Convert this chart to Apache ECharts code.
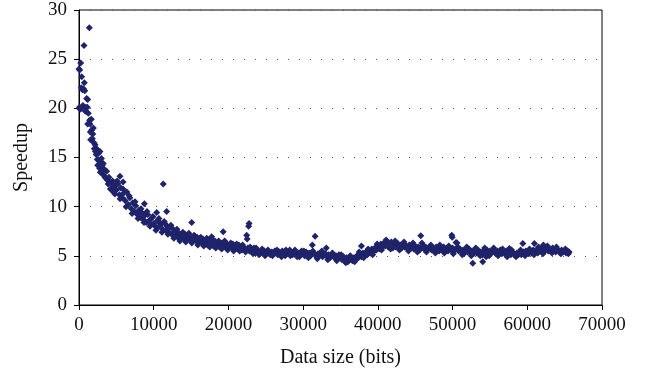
<!DOCTYPE html>
<html lang="en">
<head>
    <meta charset="UTF-8">
    <title>Speedup vs data size</title>
    <script src="https://cdn.jsdelivr.net/npm/echarts@6/dist/echarts.min.js"></script>
    <style>
        html, body { margin: 0; padding: 0; background: #fff; }
        #chart { width: 653px; height: 374px; }
    </style>
</head>
<body>
    <div id="chart"></div>

    <script>
        // [data size (bits), speedup]
        var headPoints = [
            [0, 24.0], [60, 20.1], [90, 23.9], [150, 19.9], [230, 24.6], [300, 22.1], [360, 23.2], [360, 20.0],
            [450, 21.9], [520, 20.3], [600, 22.0], [710, 22.6], [780, 21.8], [850, 19.7], [920, 20.1],
            [1030, 21.0], [1110, 20.1], [1160, 20.9], [1160, 18.4], [1250, 19.5], [1420, 18.8], [1470, 18.4],
            [1520, 17.6], [1560, 16.8], [1650, 18.9], [1700, 17.8], [1790, 16.9], [1850, 17.4], [1920, 18.0],
            [2000, 16.5], [2050, 15.9], [2150, 16.3], [2200, 15.6], [2300, 15.3], [2370, 15.9], [2450, 14.8],
            [2500, 14.2], [2590, 15.4], [2650, 14.7], [2750, 13.9], [2800, 15.6], [2850, 13.5], [2900, 14.5],
            [3000, 14.9], [3100, 14.2], [3150, 13.6], [3250, 14.4], [3300, 13.2], [3400, 13.8], [3500, 13.0],
            [3600, 12.9], [3700, 13.6], [3800, 12.7], [3900, 12.3], [4000, 13.0], [4100, 12.5], [4200, 11.8],
            [4300, 12.4], [4400, 11.9], [4500, 12.6], [4600, 11.5], [4700, 12.1], [4800, 11.3], [4900, 12.2]
        ];

        var curvePoints = [
            [5000, 11.7], [5200, 12.3], [5400, 11.2], [5600, 11.9], [5800, 10.9], [6000, 11.4], [6200, 10.6], [6400, 11.5], [6600, 10.2], [6800, 10.9],
            [7000, 9.8], [7200, 10.4], [7400, 9.5], [7600, 10.1], [7800, 9.2], [8000, 9.6], [8200, 8.9], [8400, 9.4], [8600, 8.7], [8800, 9.1],
            [9000, 8.4], [9200, 9.2], [9400, 8.6], [9600, 8.2], [9800, 8.9], [10000, 8.3], [10200, 8.0], [10500, 8.6], [10600, 7.9], [10800, 8.4],
            [11000, 8.2], [11200, 7.7], [11400, 8.5], [11600, 7.6], [11800, 8.0], [12000, 7.4], [12200, 7.9], [12400, 7.2], [12600, 7.7], [12800, 7.0],
            [13000, 7.4], [13200, 6.9], [13400, 7.3], [13600, 6.7], [13800, 7.1], [14000, 6.8], [14200, 7.2], [14400, 6.6], [14600, 7.0], [14800, 6.7],
            [15000, 6.9], [15200, 6.5], [15400, 7.1], [15600, 6.6], [15800, 6.9], [16000, 6.3], [16200, 6.8], [16400, 6.4], [16600, 6.7], [16800, 6.2],
            [17000, 6.5], [17200, 6.1], [17400, 6.6], [17600, 6.2], [17800, 6.4], [18000, 6.0], [18200, 6.5], [18400, 6.1], [18600, 6.3], [18800, 5.9],
            [19000, 6.3], [19200, 6.0], [19400, 6.4], [19600, 5.9], [19800, 6.2], [20000, 5.8], [20200, 6.1], [20400, 5.9], [20600, 6.2], [20800, 5.7],
            [21000, 6.0], [21200, 5.7], [21400, 6.1], [21600, 5.8], [21800, 5.6], [22000, 5.9], [22200, 5.6], [22600, 5.8], [22800, 5.5],
            [23000, 5.7], [23200, 5.4], [23400, 5.8], [23600, 5.3], [23800, 5.6], [24000, 5.4], [24200, 5.2], [24400, 5.5], [24600, 5.3], [24800, 5.5]
        ];

        // second, looser pass through the same band (the band is thick and ragged)
        var curveExtra = [
            [5100, 12.6], [5500, 10.8], [5900, 11.8], [6300, 10.0], [6700, 11.1], [7100, 9.3], [7500, 10.5], [7900, 8.8], [8300, 9.8],
            [8700, 8.4], [9100, 9.5], [9500, 8.0], [9900, 9.0], [10300, 7.6], [10700, 8.8], [11100, 7.4], [11500, 8.3], [11900, 7.2],
            [12300, 8.1], [12700, 6.8], [13100, 7.7], [13500, 6.5], [13900, 7.4], [14300, 6.4], [14700, 7.3], [15100, 6.3], [15500, 7.0],
            [15900, 6.1], [16300, 6.9], [16700, 6.0], [17100, 6.8], [17500, 5.9], [17900, 6.6], [18300, 5.8], [18700, 6.5], [19100, 5.7],
            [19500, 6.5], [19900, 5.6], [20300, 6.3], [20700, 5.5], [21100, 6.2], [21500, 5.5], [21900, 6.1], [22300, 5.4], [22900, 5.9],
            [23300, 5.2], [23700, 5.8], [24100, 5.1], [24500, 5.7], [24900, 5.0]
        ];

        var tailPoints = [
            [25000, 5.2], [25200, 5.5], [25400, 5.3], [25600, 5.1], [25800, 5.4], [26000, 5.2], [26200, 5.5], [26400, 5.3], [26600, 5.1], [26800, 5.4],
            [27000, 5.2], [27200, 5.5], [27400, 5.3], [27600, 5.0], [27800, 5.4], [28000, 5.2], [28200, 5.6], [28400, 5.3], [28600, 5.1], [28800, 5.4],
            [29000, 5.2], [29200, 4.9], [29400, 5.3], [29600, 5.1], [29800, 5.5], [30000, 5.2], [30200, 5.0], [30400, 5.4], [30600, 5.1], [30800, 5.3],
            [31000, 5.0], [31400, 5.3], [31700, 5.1], [31800, 4.9], [32000, 5.2], [32200, 5.0], [32400, 5.3], [32600, 4.9], [32800, 5.1],
            [33000, 5.2], [33200, 4.9], [33400, 5.1], [33600, 4.8], [33800, 5.0], [34000, 5.2], [34200, 4.8], [34400, 5.0], [34600, 4.7], [34800, 5.1],
            [35000, 4.8], [35200, 4.6], [35400, 4.9], [35600, 4.5], [35800, 4.8], [36000, 4.4], [36200, 4.7], [36400, 4.9], [36600, 4.5], [36800, 4.8],
            [37000, 4.6], [37200, 5.0], [37400, 4.8], [37600, 5.2], [37800, 4.9], [38000, 5.3], [38200, 5.0], [38400, 5.4], [38600, 5.1], [38800, 5.5],
            [39000, 5.3], [39200, 5.7], [39400, 5.4], [39600, 5.8], [39800, 5.6], [40000, 6.0], [40200, 5.7], [40400, 6.2], [40600, 5.9], [40800, 6.3],
            [41000, 6.0], [41200, 6.5], [41400, 5.9], [41600, 6.2], [41800, 6.4], [42000, 5.8], [42200, 6.1], [42400, 5.9], [42600, 6.3], [42800, 5.8],
            [43000, 6.1], [43200, 5.8], [43400, 6.2], [43600, 5.9], [43800, 6.0], [44000, 5.7], [44200, 6.1], [44400, 5.8], [44600, 6.0], [44800, 5.7],
            [45000, 6.0], [45200, 5.7], [45400, 5.9], [45600, 5.6], [45800, 5.9], [46000, 6.1], [46200, 5.7], [46400, 5.9], [46600, 5.6], [46800, 5.8],
            [47000, 5.9], [47200, 5.6], [47400, 5.8], [47600, 5.5], [47800, 5.9], [48000, 5.7], [48200, 5.5], [48400, 5.8], [48600, 5.6], [48800, 5.9],
            [49000, 5.6], [49200, 5.8], [49400, 5.5], [49600, 5.7], [49800, 5.6], [50000, 5.8], [50200, 5.5], [50400, 5.7], [50600, 6.3], [50800, 5.5],
            [51000, 5.7], [51200, 5.4], [51400, 5.6], [51600, 5.3], [51800, 5.6], [52000, 5.4], [52200, 5.7], [52400, 5.3], [52600, 5.5], [52800, 5.2],
            [53000, 5.5], [53200, 5.3], [53400, 5.6], [53600, 5.2], [53800, 5.4], [54000, 5.1], [54200, 5.5], [54400, 5.3], [54600, 5.6], [54800, 5.2],
            [55000, 5.5], [55200, 5.3], [55400, 5.6], [55600, 5.4], [55800, 5.2], [56000, 5.5], [56200, 5.3], [56400, 5.6], [56600, 5.2], [56800, 5.4],
            [57000, 5.2], [57200, 5.5], [57400, 5.3], [57800, 5.1], [58000, 5.4], [58200, 5.2], [58400, 5.0], [58600, 5.3], [58800, 5.1],
            [59000, 5.3], [59200, 5.1], [59500, 5.4], [59600, 5.2], [59800, 5.5], [60000, 5.3], [60200, 5.2], [60400, 5.5], [60600, 5.3], [60800, 5.6],
            [61000, 5.4], [61200, 5.6], [61400, 5.3], [61600, 5.7], [61800, 5.5], [62000, 5.8], [62200, 5.4], [62400, 5.7], [62600, 5.9], [62800, 5.5],
            [63000, 5.7], [63200, 5.5], [63400, 5.8], [63600, 5.6], [63800, 5.4], [64000, 5.7], [64200, 5.5], [64400, 5.3], [64600, 5.6], [64800, 5.4],
            [65000, 5.5], [65200, 5.3], [65400, 5.5], [65600, 5.4]
        ];

        var tailExtra = [
            [25300, 5.6], [25900, 5.0], [26500, 5.6], [27100, 4.9], [27700, 5.6], [28300, 5.0], [28900, 5.6], [29500, 4.9], [30100, 5.5],
            [30700, 4.8], [31300, 5.5], [31900, 4.7], [32500, 5.5], [33300, 4.6], [33900, 5.3], [34500, 4.5], [35100, 5.1], [35700, 4.3],
            [36300, 5.0], [36900, 4.4], [37500, 5.4], [38100, 4.8], [38700, 5.7], [39300, 5.1], [39900, 6.2], [40500, 5.6], [41100, 6.6],
            [41700, 5.7], [42300, 6.5], [42900, 5.6], [43500, 6.4], [44100, 5.5], [44700, 6.3], [45300, 5.4], [45900, 6.3], [46500, 5.4],
            [47100, 6.1], [47700, 5.3], [48300, 6.1], [48900, 5.3], [49500, 6.0], [50100, 5.2], [50700, 5.9], [51300, 5.1], [51900, 5.9],
            [52500, 5.0], [53100, 5.8], [53700, 5.0], [54300, 5.8], [54900, 5.0], [55500, 5.8], [56100, 5.0], [56700, 5.7], [57300, 4.9],
            [57900, 5.6], [58500, 4.9], [59100, 5.6], [59700, 5.0], [60300, 5.7], [60900, 5.1], [61500, 5.9], [62100, 5.2], [62700, 6.0],
            [63300, 5.3], [63900, 5.9], [64500, 5.2], [65100, 5.7], [65500, 5.2]
        ];

        // stray points away from the band
        var outliers = [
            [670, 26.4], [1380, 28.2], [5480, 13.1], [5900, 12.5], [8750, 10.3], [10400, 9.4], [11280, 12.3],
            [11730, 9.5], [15080, 8.4], [17760, 6.95], [19300, 7.45], [22440, 7.1], [22500, 6.7], [22700, 8.0],
            [22760, 8.3], [31230, 6.1], [31600, 7.0], [33100, 5.8], [37800, 6.0], [45740, 7.05], [49890, 7.1],
            [49950, 6.9], [50470, 6.35], [52700, 4.25], [54040, 4.4], [54500, 4.9], [57600, 5.75], [59400, 6.25],
            [60950, 6.25], [62150, 6.1]
        ];

        var xName = 'Data size (bits)';
        var yName = 'Speedup';

        var serif = '"Liberation Serif", "DejaVu Serif", serif';
        var dotColor = '#1f236a';

        var mychart = echarts.init(document.getElementById('chart'));
        var option = {
            animation: false,
            grid: {
                left: 79,
                right: 51,
                top: 10,
                bottom: 69,
                show: true,
                borderColor: '#000',
                borderWidth: 1
            },
            xAxis: {
                type: 'value',
                min: 0,
                max: 70000,
                interval: 10000,
                name: xName,
                nameLocation: 'middle',
                nameGap: 43,
                nameTextStyle: { fontFamily: serif, fontSize: 20, color: '#111' },
                axisLine: { lineStyle: { color: '#000', width: 1 } },
                axisTick: { show: true, inside: false, length: 5, lineStyle: { color: '#000' } },
                axisLabel: {
                    fontFamily: serif, fontSize: 19, color: '#111', margin: 11,
                    formatter: function (v) { return String(v); }
                },
                splitLine: { show: false }
            },
            yAxis: {
                type: 'value',
                min: 0,
                max: 30,
                interval: 5,
                name: yName,
                nameLocation: 'middle',
                nameGap: 47,
                nameTextStyle: { fontFamily: serif, fontSize: 20, color: '#111' },
                axisLine: { show: true, lineStyle: { color: '#000', width: 1 } },
                axisTick: { show: true, inside: false, length: 5, lineStyle: { color: '#000' } },
                axisLabel: { fontFamily: serif, fontSize: 19, color: '#111', margin: 12 },
                splitLine: {
                    show: true,
                    lineStyle: { color: '#555', width: 1, type: [1, 10] }
                }
            },
            series: [{
                type: 'scatter',
                symbol: 'diamond',
                symbolSize: 7,
                itemStyle: { color: dotColor, opacity: 1 },
                data: headPoints.concat(curvePoints, curveExtra, tailPoints, tailExtra, outliers)
            }]
        };
        mychart.setOption(option);
    </script>
</body>
</html>
